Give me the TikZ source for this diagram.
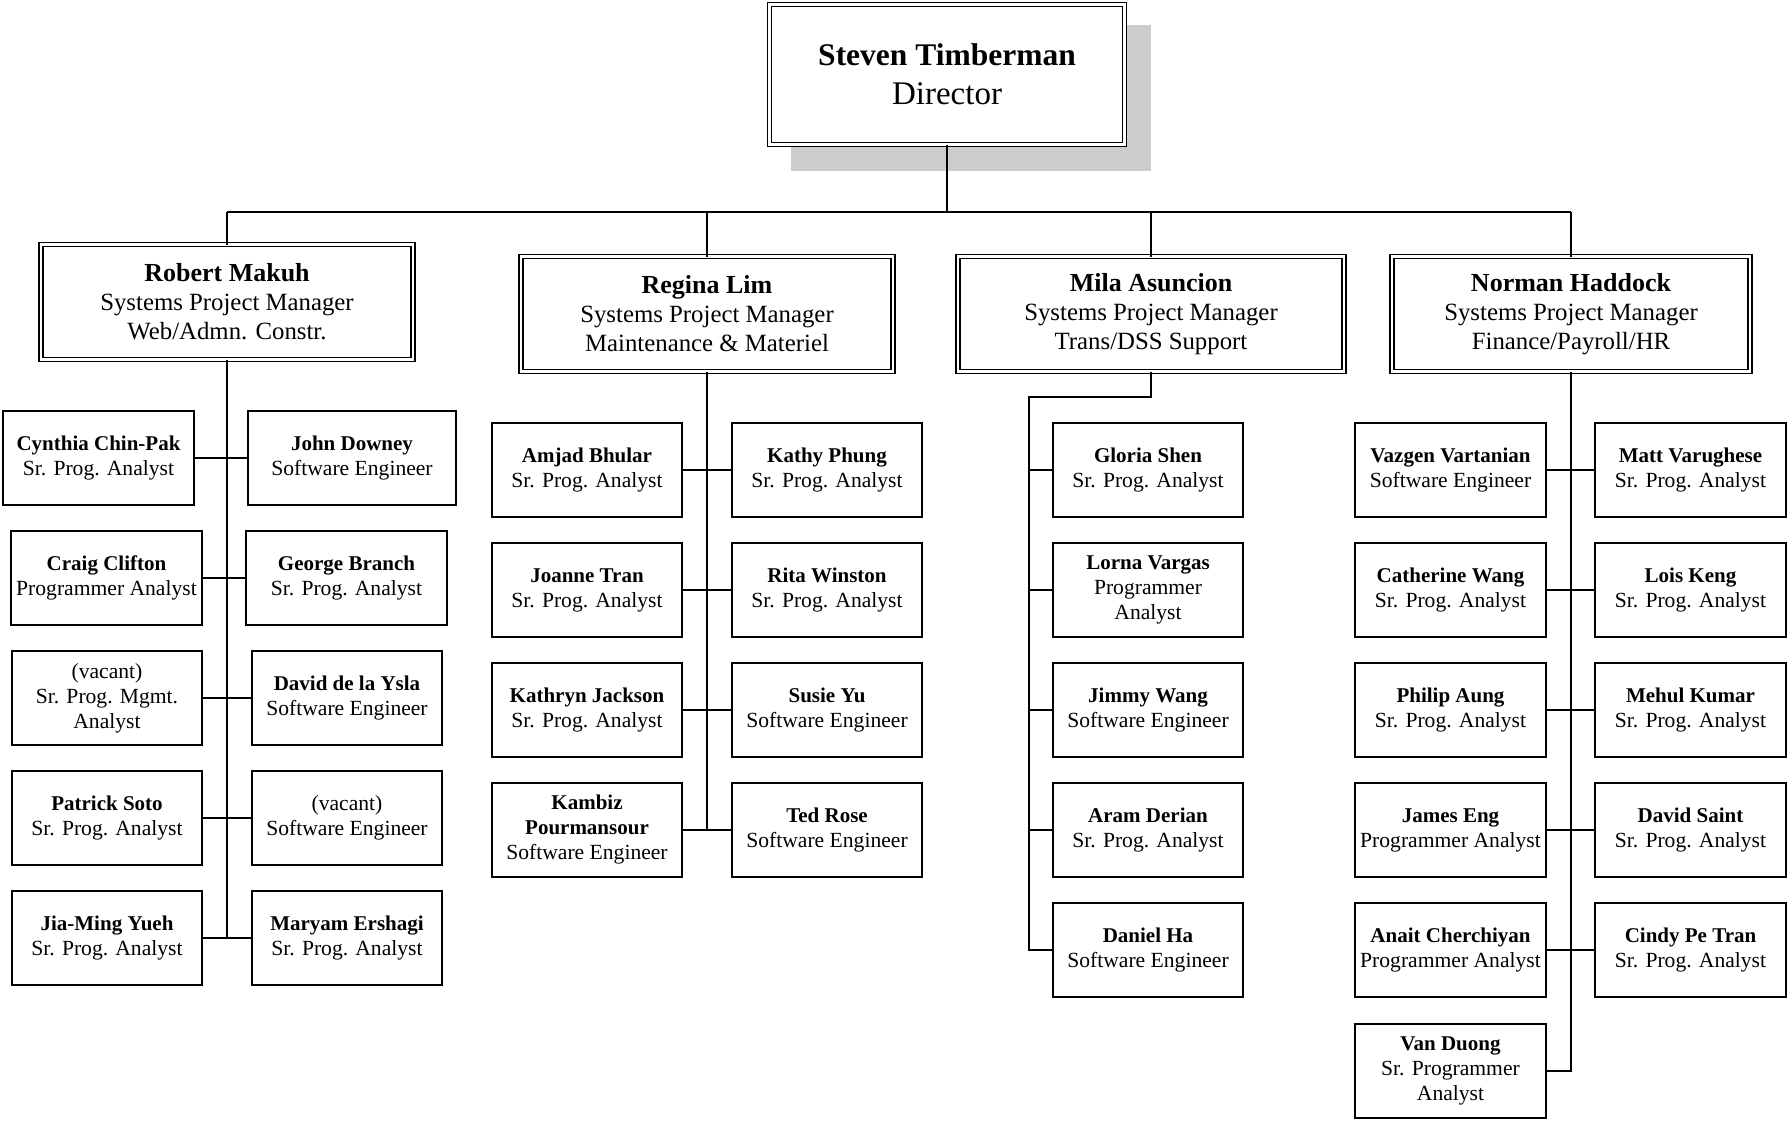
\documentclass[tikz,border=0pt]{standalone}
\usepackage{fontspec}
\setmainfont{Liberation Serif}
\newcommand\empname[1]{{\fontsize{21}{25}\selectfont\bfseries #1}}
\newcommand\mgrname[1]{{\fontsize{26}{29}\selectfont\bfseries #1}}
\begin{document}
\begin{tikzpicture}[x=1pt,y=-1pt,
  every node/.style={inner sep=0pt, outer sep=0pt},
  emp/.style={draw, line width=1.6pt, minimum height=94pt, align=center,
    font=\fontsize{21.6}{25}\selectfont, fill=white},
  mgr/.style={draw, double, double distance=2.4pt, line width=1.4pt,
    minimum height=115pt, align=center, font=\fontsize{24.8}{29}\selectfont, fill=white},
  dirbox/.style={draw, double, double distance=2.4pt, line width=1.4pt,
    minimum width=355pt, minimum height=140pt, align=center, font=\fontsize{33}{39}\selectfont, fill=white},
  link/.style={line width=1.6pt}]
\useasboundingbox (0,0) rectangle (1787,1120);
\fill[white] (0,0) rectangle (1787,1120);
% shadow
\fill[black!20] (791,25) rectangle (1151,171);
\node[dirbox] (dir) at (947,74.5) {{\fontsize{31.5}{39}\selectfont\bfseries Steven Timberman}\\Director};
% managers
\node[mgr, minimum width=372pt] (rm) at (227,302) {\mgrname{Robert Makuh}\\Systems Project Manager\\Web/Admn. Constr.};
\node[mgr, minimum width=372pt] (rl) at (707,314) {\mgrname{Regina Lim}\\Systems Project Manager\\Maintenance \& Materiel};
\node[mgr, minimum width=386pt] (ma) at (1151,314) {\mgrname{Mila Asuncion}\\Systems Project Manager\\Trans/DSS Support};
\node[mgr, minimum width=358pt] (nh) at (1571,314) {\mgrname{Norman Haddock}\\Systems Project Manager\\Finance/Payroll/HR};
% connectors top
\coordinate (busL) at (227,212);
\coordinate (busR) at (1571,212);
\draw[link] (busL) -- (busR);
\draw[link] (dir.south) -- (dir.south |- busL);
\draw[link] (rm.north) -- (rm.north |- busL);
\draw[link] (rl.north) -- (rl.north |- busL);
\draw[link] (ma.north) -- (ma.north |- busL);
\draw[link] (nh.north) -- (nh.north |- busL);
% Robert team
\node[emp, minimum width=191pt] (cy) at (98.5,458) {\empname{Cynthia Chin-Pak}\\Sr. Prog. Analyst};
\node[emp, minimum width=208pt] (jd) at (352,458) {\empname{John Downey}\\Software Engineer};
\node[emp, minimum width=191pt] (cc) at (106.5,578) {\empname{Craig Clifton}\\Programmer Analyst};
\node[emp, minimum width=201pt] (gb) at (346.5,578) {\empname{George Branch}\\Sr. Prog. Analyst};
\node[emp, minimum width=190pt] (vaa) at (107,698) {(vacant)\\Sr. Prog. Mgmt.\\Analyst};
\node[emp, minimum width=190pt] (dy) at (347,698) {\empname{David de la Ysla}\\Software Engineer};
\node[emp, minimum width=190pt] (ps) at (107,818) {\empname{Patrick Soto}\\Sr. Prog. Analyst};
\node[emp, minimum width=190pt] (vab) at (347,818) {(vacant)\\Software Engineer};
\node[emp, minimum width=190pt] (jm) at (107,938) {\empname{Jia-Ming Yueh}\\Sr. Prog. Analyst};
\node[emp, minimum width=190pt] (me) at (347,938) {\empname{Maryam Ershagi}\\Sr. Prog. Analyst};
\draw[link] (rm.south) -- (rm.south |- jm.east);
\draw[link] (cy.east) -- (jd.west);
\draw[link] (cc.east) -- (gb.west);
\draw[link] (vaa.east) -- (dy.west);
\draw[link] (ps.east) -- (vab.west);
\draw[link] (jm.east) -- (me.west);
% Regina team
\node[emp, minimum width=190pt] (ab) at (587,470) {\empname{Amjad Bhular}\\Sr. Prog. Analyst};
\node[emp, minimum width=190pt] (kp) at (827,470) {\empname{Kathy Phung}\\Sr. Prog. Analyst};
\node[emp, minimum width=190pt] (jt) at (587,590) {\empname{Joanne Tran}\\Sr. Prog. Analyst};
\node[emp, minimum width=190pt] (rw) at (827,590) {\empname{Rita Winston}\\Sr. Prog. Analyst};
\node[emp, minimum width=190pt] (kj) at (587,710) {\empname{Kathryn Jackson}\\Sr. Prog. Analyst};
\node[emp, minimum width=190pt] (sy) at (827,710) {\empname{Susie Yu}\\Software Engineer};
\node[emp, minimum width=190pt] (kb) at (587,830) {\empname{Kambiz}\\\empname{Pourmansour}\\Software Engineer};
\node[emp, minimum width=190pt] (tr) at (827,830) {\empname{Ted Rose}\\Software Engineer};
\draw[link] (rl.south) -- (rl.south |- kb.east);
\draw[link] (ab.east) -- (kp.west);
\draw[link] (jt.east) -- (rw.west);
\draw[link] (kj.east) -- (sy.west);
\draw[link] (kb.east) -- (tr.west);
% Mila team
\node[emp, minimum width=190pt] (gs) at (1148,470) {\empname{Gloria Shen}\\Sr. Prog. Analyst};
\node[emp, minimum width=190pt] (lv) at (1148,590) {\empname{Lorna Vargas}\\Programmer\\Analyst};
\node[emp, minimum width=190pt] (jw) at (1148,710) {\empname{Jimmy Wang}\\Software Engineer};
\node[emp, minimum width=190pt] (ad) at (1148,830) {\empname{Aram Derian}\\Sr. Prog. Analyst};
\node[emp, minimum width=190pt] (dh) at (1148,950) {\empname{Daniel Ha}\\Software Engineer};
\coordinate (mbend) at (1029,397);
\draw[link] (ma.south) |- (mbend) -- (mbend |- dh.west) -- (dh.west);
\draw[link] (mbend |- gs.west) -- (gs.west);
\draw[link] (mbend |- lv.west) -- (lv.west);
\draw[link] (mbend |- jw.west) -- (jw.west);
\draw[link] (mbend |- ad.west) -- (ad.west);
% Norman team
\node[emp, minimum width=191pt] (vv) at (1450.5,470) {\empname{Vazgen Vartanian}\\Software Engineer};
\node[emp, minimum width=191pt] (mv) at (1690.5,470) {\empname{Matt Varughese}\\Sr. Prog. Analyst};
\node[emp, minimum width=191pt] (cw) at (1450.5,590) {\empname{Catherine Wang}\\Sr. Prog. Analyst};
\node[emp, minimum width=191pt] (lk) at (1690.5,590) {\empname{Lois Keng}\\Sr. Prog. Analyst};
\node[emp, minimum width=191pt] (pa) at (1450.5,710) {\empname{Philip Aung}\\Sr. Prog. Analyst};
\node[emp, minimum width=191pt] (mk) at (1690.5,710) {\empname{Mehul Kumar}\\Sr. Prog. Analyst};
\node[emp, minimum width=191pt] (je) at (1450.5,830) {\empname{James Eng}\\Programmer Analyst};
\node[emp, minimum width=191pt] (ds) at (1690.5,830) {\empname{David Saint}\\Sr. Prog. Analyst};
\node[emp, minimum width=191pt] (ac) at (1450.5,950) {\empname{Anait Cherchiyan}\\Programmer Analyst};
\node[emp, minimum width=191pt] (ct) at (1690.5,950) {\empname{Cindy Pe Tran}\\Sr. Prog. Analyst};
\node[emp, minimum width=191pt] (vd) at (1450.5,1071) {\empname{Van Duong}\\Sr. Programmer\\Analyst};
\draw[link] (nh.south) -- (nh.south |- vd.east) -- (vd.east);
\draw[link] (vv.east) -- (mv.west);
\draw[link] (cw.east) -- (lk.west);
\draw[link] (pa.east) -- (mk.west);
\draw[link] (je.east) -- (ds.west);
\draw[link] (ac.east) -- (ct.west);
\end{tikzpicture}
\end{document}
